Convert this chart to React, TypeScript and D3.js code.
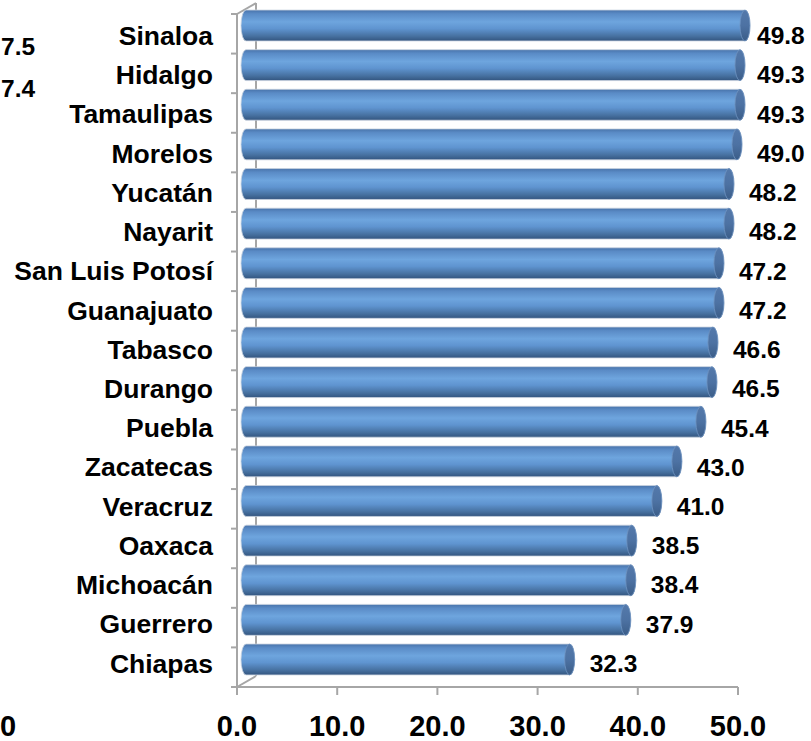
import { useEffect, useRef } from 'react';
import * as d3 from 'd3';

const states = [
  'Sinaloa', 'Hidalgo', 'Tamaulipas', 'Morelos', 'Yucatán', 'Nayarit',
  'San Luis Potosí', 'Guanajuato', 'Tabasco', 'Durango', 'Puebla',
  'Zacatecas', 'Veracruz', 'Oaxaca', 'Michoacán', 'Guerrero', 'Chiapas',
];
const values = [
  49.8, 49.3, 49.3, 49.0, 48.2, 48.2, 47.2, 47.2, 46.6, 46.5, 45.4,
  43.0, 41.0, 38.5, 38.4, 37.9, 32.3,
];
const xTicks = [0, 10, 20, 30, 40, 50];
// what is left of the neighbouring chart at the left edge
const cutLabels = ['7.5', '7.4'];
const cutTickLabel = '0';

const W = 811;
const H = 741;
const FONT = '"Liberation Sans", Arial, sans-serif';

export default function App() {
  const svgRef = useRef<SVGSVGElement>(null);

  useEffect(() => {
    if (!svgRef.current) return;
    const svg = d3.select(svgRef.current);
    svg.selectAll('*').remove();

    const x = d3.scaleLinear().domain([0, 50]).range([237, 738]);
    const frontY = d3.scaleBand().domain(states).range([14, 687]);
    const barY = d3.scaleBand().domain(states).range([5.7, 679.3]).paddingInner(0.22).paddingOuter(0.11);
    const labelY = d3.scaleBand().domain(states).range([16, 683]);
    const depthX = 19;
    const depthY = -11;
    const barShift = 9;
    const rx = 5;

    const defs = svg.append('defs');
    const body = defs.append('linearGradient')
      .attr('id', 'cyl-body')
      .attr('x1', 0).attr('y1', 0).attr('x2', 0).attr('y2', 1);
    [
      [0, '#4873aa'], [0.12, '#5a8bc6'], [0.38, '#6ea5de'], [0.6, '#5f94d0'],
      [0.85, '#46709f'], [1, '#33557f'],
    ].forEach(([o, c]) => body.append('stop').attr('offset', o as number).attr('stop-color', c as string));

    const cap = defs.append('linearGradient')
      .attr('id', 'cyl-cap')
      .attr('x1', 0).attr('y1', 0).attr('x2', 0).attr('y2', 1);
    [[0, '#5479ab'], [0.5, '#4d72a3'], [1, '#3b5d88']]
      .forEach(([o, c]) => cap.append('stop').attr('offset', o as number).attr('stop-color', c as string));

    // walls / axes
    const axisColor = '#a6a6a6';
    const y0 = frontY.range()[0];
    const y1 = frontY.range()[1];
    const walls = svg.append('g').attr('fill', 'none').attr('stroke', axisColor).attr('stroke-width', 2);
    walls.append('path').attr('d', `M${x(0) + depthX},${y0 + depthY}L${x(0) + depthX},${y1 + depthY}`);
    walls.append('path').attr('d', `M${x(0)},${y0}L${x(0) + depthX},${y0 + depthY}`);
    walls.append('path').attr('d', `M${x(0)},${y1}L${x(0) + depthX},${y1 + depthY}`);
    walls.append('path').attr('d', `M${x(0)},${y0}L${x(0)},${y1}L${x(50)},${y1}`);

    // category ticks on the front axis
    const catTicks = states.map(s => frontY(s) as number).concat([y1]);
    walls.selectAll('line.cat')
      .data(catTicks)
      .join('line')
      .attr('x1', x(0) - 6).attr('x2', x(0))
      .attr('y1', d => d).attr('y2', d => d);

    walls.selectAll('line.xt')
      .data(xTicks)
      .join('line')
      .attr('x1', d => x(d)).attr('x2', d => x(d))
      .attr('y1', y1).attr('y2', y1 + 8);

    // cylinders
    const bars = svg.append('g');
    states.forEach((s, i) => {
      const top = barY(s) as number;
      const h = barY.bandwidth();
      const ry = h / 2;
      const cx0 = x(0) + barShift;
      const cx1 = x(values[i]) + barShift;
      bars.append('path')
        .attr('d', `M${cx0},${top}L${cx1},${top}A${rx},${ry} 0 0 1 ${cx1},${top + h}L${cx0},${top + h}A${rx},${ry} 0 0 1 ${cx0},${top}Z`)
        .attr('fill', 'url(#cyl-body)')
        .attr('stroke', '#c9d3df')
        .attr('stroke-width', 0.8);
      bars.append('ellipse')
        .attr('cx', cx1).attr('cy', top + ry)
        .attr('rx', rx).attr('ry', ry)
        .attr('fill', 'url(#cyl-cap)')
        .attr('stroke', '#6f93c0')
        .attr('stroke-width', 0.8);
    });

    // category labels
    svg.append('g')
      .selectAll('text')
      .data(states)
      .join('text')
      .attr('x', 213)
      .attr('y', d => (labelY(d) as number) + labelY.bandwidth() / 2)
      .attr('dy', '0.35em')
      .attr('text-anchor', 'end')
      .attr('font-family', FONT)
      .attr('font-weight', 'bold')
      .attr('font-size', 26.5)
      .attr('fill', '#000')
      .text(d => d);

    // value labels
    const labelW = 48;
    svg.append('g')
      .selectAll('text')
      .data(values)
      .join('text')
      .attr('x', d => Math.min(x(d) + barShift + rx + 15, 805 - labelW))
      .attr('y', (d, i) => (labelY(states[i]) as number) + labelY.bandwidth() / 2)
      .attr('dy', '0.35em')
      .attr('font-family', FONT)
      .attr('font-weight', 'bold')
      .attr('font-size', 24.5)
      .attr('fill', '#000')
      .text(d => d.toFixed(1));

    // x tick labels
    svg.append('g')
      .selectAll('text')
      .data(xTicks)
      .join('text')
      .attr('x', d => x(d))
      .attr('y', 726)
      .attr('dy', '0.35em')
      .attr('text-anchor', 'middle')
      .attr('font-family', FONT)
      .attr('font-weight', 'bold')
      .attr('font-size', 29)
      .attr('fill', '#000')
      .text(d => d.toFixed(1));

    // remnants of the neighbouring chart
    svg.append('g')
      .selectAll('text')
      .data(cutLabels)
      .join('text')
      .attr('x', 1)
      .attr('y', (d, i) => 46 + i * 42)
      .attr('dy', '0.35em')
      .attr('font-family', FONT)
      .attr('font-weight', 'bold')
      .attr('font-size', 24.5)
      .text(d => d);
    svg.append('text')
      .attr('x', 0)
      .attr('y', 726)
      .attr('dy', '0.35em')
      .attr('font-family', FONT)
      .attr('font-weight', 'bold')
      .attr('font-size', 29)
      .text(cutTickLabel);
  }, []);

  return (
    <svg
      ref={svgRef}
      width={W}
      height={H}
      style={{ position: 'absolute', left: 0, top: 0, background: '#fff' }}
    />
  );
}
